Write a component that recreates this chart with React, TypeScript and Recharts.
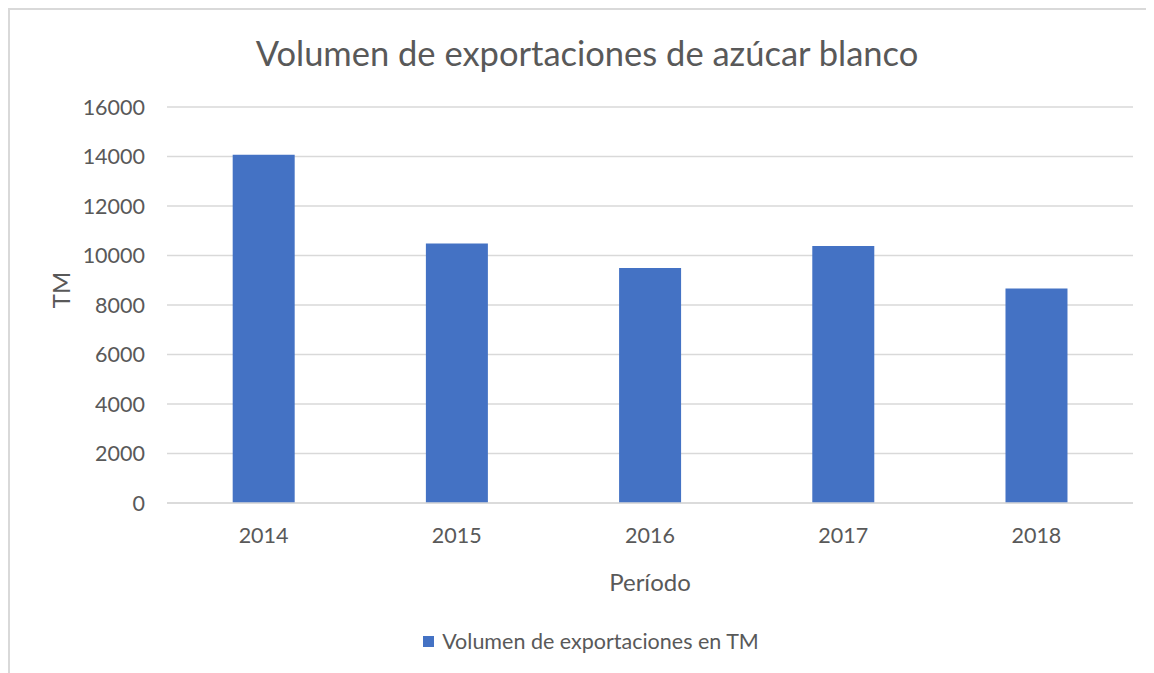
import { BarChart, Bar, XAxis, YAxis, CartesianGrid, Legend } from "recharts";

const years = ["2014", "2015", "2016", "2017", "2018"];
const volumes = [14070, 10480, 9500, 10380, 8670];
const yTicks = [0, 2000, 4000, 6000, 8000, 10000, 12000, 14000, 16000];

const data = years.map((year, i) => ({ year, volumen: volumes[i] }));

const FONT = "Lato, 'Open Sans', sans-serif";
const TEXT = "#595959";
const GRID = "#d9d9d9";
const BLUE = "#4472c4";

function LegendContent() {
  return (
    <div
      style={{
        display: "flex",
        justifyContent: "center",
        alignItems: "center",
        fontFamily: FONT,
        fontSize: 21.5,
        color: TEXT,
      }}
    >
      <span
        style={{
          width: 11,
          height: 11,
          background: BLUE,
          display: "inline-block",
          marginRight: 8,
        }}
      />
      Volumen de exportaciones en TM
    </div>
  );
}

export default function App() {
  return (
    <div
      style={{
        position: "relative",
        width: 1146,
        height: 665,
        background: "#fff",
        borderTop: `2px solid ${GRID}`,
        borderLeft: `2px solid ${GRID}`,
        boxSizing: "border-box",
        overflow: "hidden",
      }}
    >
      <div
        style={{
          position: "absolute",
          top: 22,
          left: 0,
          width: 1154,
          textAlign: "center",
          fontFamily: FONT,
          fontSize: 34.5,
          color: TEXT,
        }}
      >
        Volumen de exportaciones de azúcar blanco
      </div>
      <div style={{ position: "absolute", left: -2, top: -2 }}>
        <BarChart
          width={1146}
          height={665}
          data={data}
          margin={{ top: 99, right: 21, left: 0, bottom: 0 }}
          barCategoryGap="34%"
        >
          <CartesianGrid vertical={false} stroke={GRID} strokeWidth={1.5} />
          <XAxis
            dataKey="year"
            height={170}
            tickLine={false}
            axisLine={{ stroke: GRID, strokeWidth: 1.5 }}
            tickMargin={19}
            tick={{ fill: TEXT, fontSize: 21.5, fontFamily: FONT }}
            label={{
              value: "Período",
              position: "insideBottom",
              offset: 82,
              fill: TEXT,
              fontSize: 24,
              fontFamily: FONT,
            }}
          />
          <YAxis
            width={159}
            domain={[0, 16000]}
            ticks={yTicks}
            tickLine={false}
            axisLine={false}
            tickMargin={16}
            tick={{ fill: TEXT, fontSize: 21.5, fontFamily: FONT }}
            label={{
              content: (props: any) => {
                const vb = props.viewBox || { x: 0, y: 0, width: 0, height: 0 };
                const x = vb.x + 52;
                const y = vb.y + vb.height / 2 - 15;
                return (
                  <text
                    x={x}
                    y={y}
                    transform={`rotate(-90 ${x} ${y})`}
                    textAnchor="middle"
                    dominantBaseline="central"
                    fill={TEXT}
                    fontSize={24}
                    fontFamily={FONT}
                  >
                    TM
                  </text>
                );
              },
            }}
          />
          <Legend
            verticalAlign="middle"
            content={<LegendContent />}
            wrapperStyle={{ top: 620, left: 0, width: 1166 }}
          />
          <Bar
            dataKey="volumen"
            name="Volumen de exportaciones en TM"
            fill={BLUE}
            isAnimationActive={false}
          />
        </BarChart>
      </div>
    </div>
  );
}
